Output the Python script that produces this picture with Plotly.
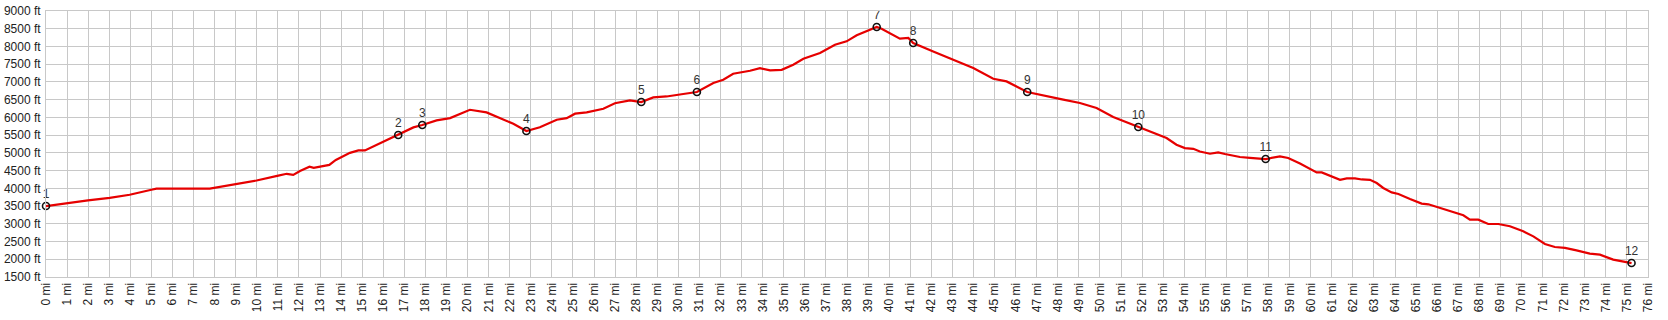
import plotly.graph_objects as go

# Elevation profile (distance in miles, elevation in feet)
profile_mi = [0.0, 0.97, 1.99, 3.02, 3.97, 5.0, 5.24, 7.77, 8.88, 9.99, 11.02, 11.42, 11.73, 12.05,
              12.5, 12.7, 13.44, 13.75, 14.42, 14.82, 15.13, 15.69, 16.15, 16.71, 17.43, 17.85,
              18.53, 19.17, 20.11, 20.9, 21.54, 22.17, 22.79, 23.43, 24.23, 24.7, 25.1, 25.65,
              26.44, 26.99, 27.7, 28.24, 28.81, 29.44, 30.23, 30.88, 31.66, 32.13, 32.6, 33.4,
              33.87, 34.35, 34.9, 35.45, 35.93, 36.72, 37.43, 37.98, 38.46, 39.41, 39.64, 40.04,
              40.51, 40.91, 41.14, 42.09, 43.04, 43.99, 44.94, 45.57, 46.55, 47.47, 48.26, 49.05,
              49.84, 50.63, 51.82, 53.16, 53.63, 54.03, 54.43, 54.74, 55.22, 55.61, 55.93, 56.64,
              57.12, 57.86, 58.54, 58.93, 59.49, 60.28, 60.52, 61.23, 61.39, 61.71, 62.1, 62.42,
              62.81, 63.13, 63.44, 63.84, 64.16, 64.71, 65.26, 65.58, 66.13, 66.92, 67.24, 67.55,
              67.95, 68.42, 68.9, 69.45, 70.08, 70.56, 71.11, 71.58, 72.06, 72.61, 73.24, 73.72,
              74.35, 75.22]
profile_ft = [3500, 3587, 3660, 3730, 3820, 3960, 3990, 3990, 4100, 4220, 4360, 4410, 4380, 4490,
              4610, 4580, 4660, 4800, 5000, 5070, 5070, 5230, 5350, 5503, 5718, 5785,
              5915, 5980, 6215, 6140, 5980, 5820, 5616, 5720, 5935, 5980, 6105, 6140,
              6245, 6400, 6480, 6434, 6565, 6590, 6660, 6716, 6970, 7060, 7230, 7315,
              7390, 7325, 7340, 7485, 7655, 7815, 8050, 8145, 8315, 8549, 8500, 8380,
              8220, 8240, 8098, 7860, 7625, 7390, 7090, 7015, 6716, 6590, 6500, 6405,
              6265, 6010, 5729, 5420, 5230, 5135, 5115, 5040, 4975, 5013, 4967, 4883,
              4860, 4826, 4900, 4855, 4700, 4450, 4450, 4265, 4240, 4280, 4280, 4250,
              4240, 4150, 4010, 3885, 3840, 3700, 3570, 3550, 3450, 3285, 3240, 3115,
              3115, 2995, 2995, 2930, 2790, 2645, 2430, 2345, 2320, 2250, 2160, 2130,
              1990, 1893]

# Waypoints
wp_labels = ["1", "2", "3", "4", "5", "6", "7", "8", "9", "10", "11", "12"]
wp_mi = [0.0, 16.71, 17.85, 22.79, 28.24, 30.88, 39.41, 41.14, 46.55, 51.82, 57.86, 75.22]
wp_ft = [3500, 5503, 5785, 5616, 6434, 6716, 8549, 8098, 6716, 5729, 4826, 1893]

x_ticks = list(range(0, 77))
y_ticks = list(range(1500, 9001, 500))

FONT = "Liberation Sans, Arial, sans-serif"
GRID = "#c8c8c8"

fig = go.Figure()
fig.add_trace(go.Scatter(
    x=profile_mi, y=profile_ft, mode="lines",
    line=dict(color="#e60000", width=2.2),
    hoverinfo="skip", showlegend=False,
))
fig.add_trace(go.Scatter(
    x=wp_mi, y=wp_ft, mode="markers+text",
    text=wp_labels, textposition="top center",
    textfont=dict(family=FONT, size=12, color="#333333"),
    marker=dict(symbol="circle", size=7, color="rgba(255,255,255,0)",
                line=dict(color="#111111", width=1.6)),
    showlegend=False, cliponaxis=False,
))

fig.update_layout(
    width=1668, height=320,
    margin=dict(l=46, r=20, t=11, b=43, autoexpand=False),
    paper_bgcolor="white", plot_bgcolor="white",
    font=dict(family=FONT, size=12, color="#222222"),
)
fig.update_xaxes(
    range=[0, 76], tickvals=x_ticks, ticktext=[f"{v} mi" for v in x_ticks],
    tickangle=-90, showgrid=True, gridcolor=GRID, gridwidth=1,
    showline=True, linecolor=GRID, linewidth=1, mirror=True, zeroline=False,
    ticks="", automargin=False, tickfont=dict(family=FONT, size=12, color="#222222"),
)
fig.update_yaxes(
    range=[1500, 9000], tickvals=y_ticks, ticktext=[f"{v} ft" for v in y_ticks],
    showgrid=True, gridcolor=GRID, gridwidth=1,
    showline=True, linecolor=GRID, linewidth=1, mirror=True, zeroline=False,
    ticks="", automargin=False, ticklabelstandoff=2,
    tickfont=dict(family=FONT, size=12, color="#222222"),
)

fig.write_html("out.html")
